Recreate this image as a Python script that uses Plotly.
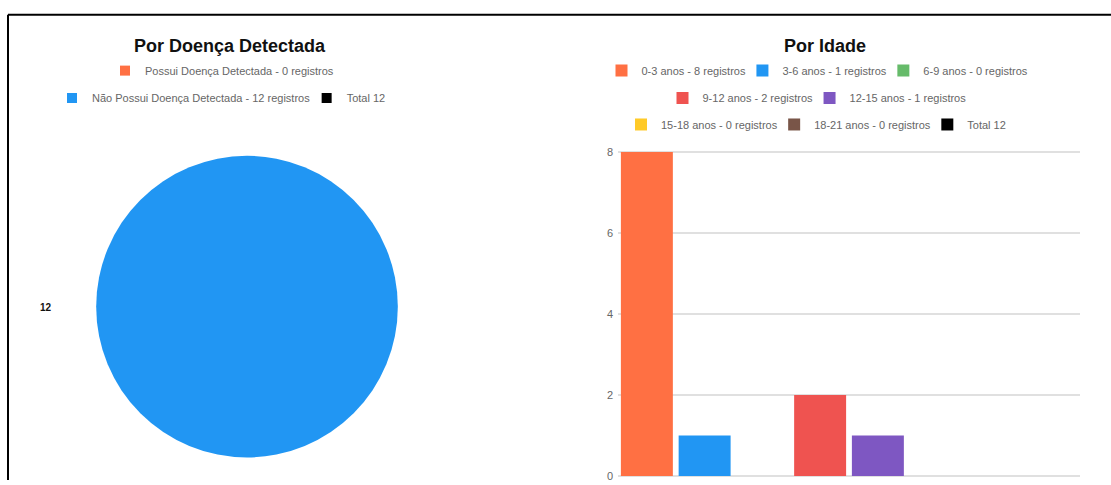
import plotly.graph_objects as go

W, H = 1111, 485
FONT = "Liberation Sans, Arial, sans-serif"

# ---- data: left chart (pie) ----
pie_labels = ["Possui Doença Detectada", "Não Possui Doença Detectada"]
pie_values = [0, 12]
pie_colors = ["#FF7043", "#2196F3"]

# ---- data: right chart (bars) ----
age_groups = ["0-3 anos", "3-6 anos", "6-9 anos", "9-12 anos",
              "12-15 anos", "15-18 anos", "18-21 anos"]
age_values = [8, 1, 0, 2, 1, 0, 0]
age_colors = ["#FF7043", "#2196F3", "#66BB6A", "#EF5350",
              "#7E57C2", "#FFCA28", "#795548"]
total_color = "#000000"
bar_category = ["Idade"]
y_ticks = [0, 2, 4, 6, 8]

# legend row assignment (as wrapped in the original)
pie_legend_rows = ["legend", "legend2"]
bar_legend_rows = ["legend3", "legend3", "legend3", "legend4",
                   "legend4", "legend5", "legend5"]

# approximate Arial / Liberation Sans advance widths (per 1000 em)
_ADV = {" ": 278, "-": 333, "a": 556, "c": 500, "d": 556, "e": 556,
        "g": 556, "i": 222, "l": 222, "n": 556, "o": 556, "r": 333,
        "s": 500, "t": 278, "u": 556, "ç": 500, "ã": 556, "D": 722,
        "N": 722, "P": 667, "T": 611}
LEG_SIZE = 11


def text_w(s, size=LEG_SIZE):
    return sum(_ADV.get(ch, 556) for ch in s) * size / 1000.0


def leg_w(s, last=False):
    # tighten the spacing between legend entries; keep the last one whole
    if last:
        return text_w(s) + 4
    return max(text_w(s) - 8, 10)


def px_x(p):
    return p / W


def px_y(p):
    return 1 - p / H


fig = go.Figure()

# pie
fig.add_trace(go.Pie(
    labels=pie_labels, values=pie_values,
    marker=dict(colors=pie_colors, line=dict(width=0)),
    sort=False, direction="clockwise", textinfo="none",
    showlegend=False,
    domain=dict(x=[px_x(93), px_x(401)], y=[px_y(462), px_y(154)]),
))

# pie legend entries
pie_total = sum(pie_values)
for k, (lab, val, col, lg) in enumerate(zip(pie_labels, pie_values, pie_colors, pie_legend_rows)):
    nm = f"{lab} - {val} registros"
    fig.add_trace(go.Scatter(
        x=[None], y=[None], mode="markers", name=nm, legend=lg,
        legendwidth=leg_w(nm, last=(lg == "legend")),
        marker=dict(symbol="square", size=10, color=col),
        hoverinfo="skip"))
nm = f"Total {pie_total}"
fig.add_trace(go.Scatter(
    x=[None], y=[None], mode="markers", name=nm, legend="legend2",
    legendwidth=leg_w(nm, last=True),
    marker=dict(symbol="square", size=10, color=total_color),
    hoverinfo="skip"))

# bars
age_total = sum(age_values)
n = len(age_groups)
for k, (lab, val, col, lg) in enumerate(zip(age_groups, age_values, age_colors, bar_legend_rows)):
    nm = f"{lab} - {val} registros"
    is_last = (k + 1 < n and bar_legend_rows[k + 1] != lg)
    fig.add_trace(go.Bar(
        x=bar_category, y=[val], name=nm, legend=lg,
        legendwidth=leg_w(nm, last=is_last),
        marker=dict(color=col, line=dict(width=0))))
nm = f"Total {age_total}"
fig.add_trace(go.Bar(
    x=bar_category, y=[0], name=nm, legend="legend5",
    legendwidth=leg_w(nm, last=True),
    marker=dict(color=total_color, line=dict(width=0))))

legend_common = dict(orientation="h", xanchor="center", yanchor="middle",
                     font=dict(size=LEG_SIZE, color="#666666", family=FONT),
                     bgcolor="rgba(0,0,0,0)", itemclick=False,
                     itemdoubleclick=False)

# y scale: 0 at px 481, 8 at px 150; tiny range padding so end gridlines show
unit = (481 - 150) / 8.0
pad = 0.03
fig.update_layout(
    width=W, height=H,
    margin=dict(l=0, r=0, t=0, b=0),
    paper_bgcolor="white", plot_bgcolor="white",
    font=dict(family=FONT, color="#666666", size=11),
    barmode="group", bargap=0, bargroupgap=0.1,
    xaxis=dict(type="category", domain=[px_x(618), px_x(1080)],
               showticklabels=False, showgrid=False, zeroline=False,
               showline=False, fixedrange=True),
    yaxis=dict(domain=[px_y(481 + pad * unit), px_y(150 - pad * unit)],
               range=[-pad, 8 + pad],
               tickvals=y_ticks, showgrid=True, gridcolor="#e0e0e0",
               gridwidth=2, zeroline=False, showline=False,
               tickfont=dict(size=11, color="#666666", family=FONT),
               ticklabelstandoff=4, ticklabeloverflow="allow",
               fixedrange=True),
    legend=dict(x=px_x(224), y=px_y(67), **legend_common),
    legend2=dict(x=px_x(224), y=px_y(95), **legend_common),
    legend3=dict(x=px_x(819), y=px_y(67), **legend_common),
    legend4=dict(x=px_x(819), y=px_y(95), **legend_common),
    legend5=dict(x=px_x(819), y=px_y(122), **legend_common),
    annotations=[
        dict(text="<b>Por Doença Detectada</b>", x=px_x(230), y=px_y(42),
             xref="paper", yref="paper", showarrow=False,
             xanchor="center", yanchor="middle",
             font=dict(size=18, color="#111111", family=FONT)),
        dict(text="<b>Por Idade</b>", x=px_x(825), y=px_y(42),
             xref="paper", yref="paper", showarrow=False,
             xanchor="center", yanchor="middle",
             font=dict(size=18, color="#111111", family=FONT)),
        dict(text=f"<b>{pie_values[1]}</b>", x=px_x(46), y=px_y(309),
             xref="paper", yref="paper", showarrow=False,
             xanchor="center", yanchor="middle",
             font=dict(size=10, color="#111111", family=FONT)),
    ],
    shapes=[
        dict(type="line", xref="paper", yref="paper",
             x0=px_x(8), x1=1, y0=px_y(10), y1=px_y(10),
             line=dict(color="black", width=2)),
        dict(type="line", xref="paper", yref="paper",
             x0=px_x(8), x1=px_x(8), y0=px_y(10), y1=0,
             line=dict(color="black", width=2)),
    ],
)

fig.write_html(
    "out.html",
    config=dict(displayModeBar=False),
    post_script="document.body.style.margin='0';document.body.style.overflow='hidden';",
)
